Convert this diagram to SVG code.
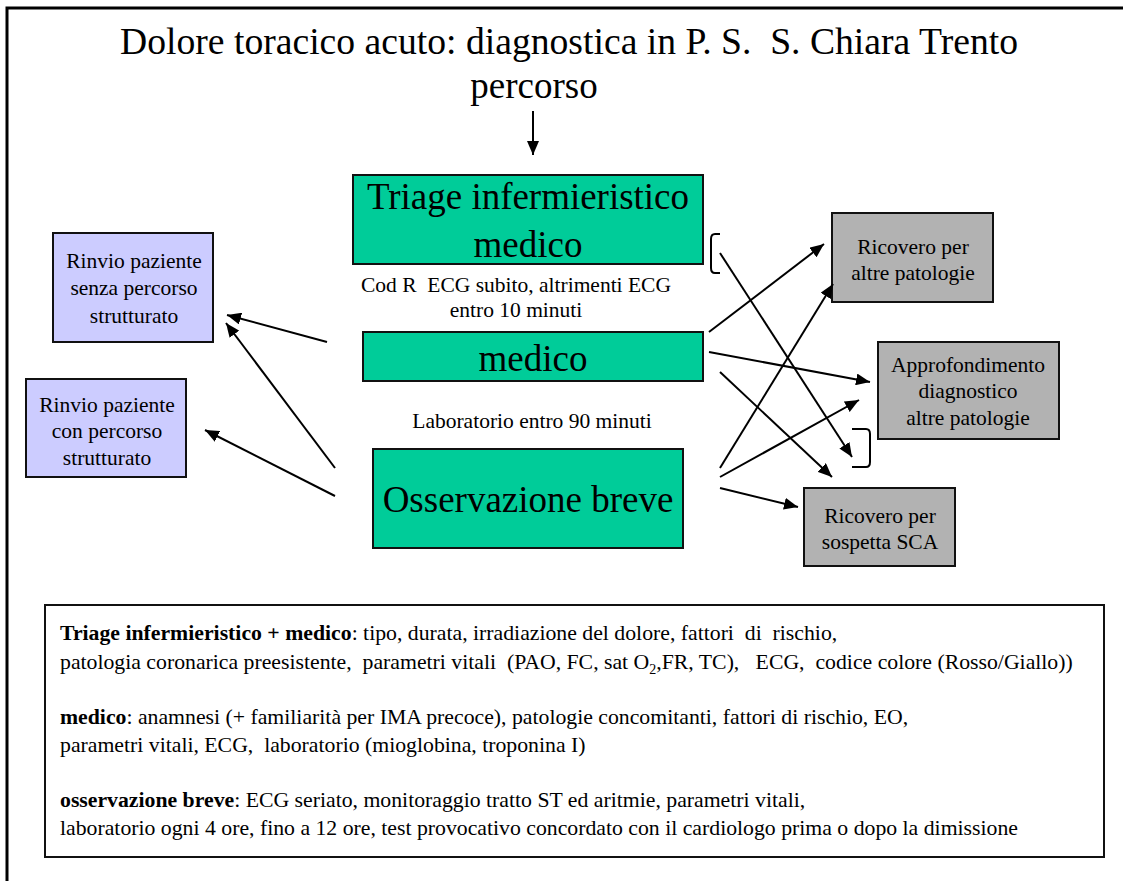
<svg xmlns="http://www.w3.org/2000/svg" width="1123" height="881" viewBox="0 0 1123 881" font-family="'Liberation Serif', 'DejaVu Serif', serif">
<style>
text{font-family:'Liberation Serif','DejaVu Serif',serif;fill:#000}
.big{font-size:37px;text-anchor:middle}
.sm{font-size:21.5px;text-anchor:middle}
.body{font-size:21.75px}
.b{font-weight:bold}
.g{fill:#00CC99;stroke:#111;stroke-width:2}
.l{fill:#CCCCFF;stroke:#111;stroke-width:2}
.y{fill:#B2B2B2;stroke:#111;stroke-width:2}
.c line{stroke:#000;stroke-width:2;marker-end:url(#ah)}
.br{fill:none;stroke:#000;stroke-width:2}
</style>
<defs>
<marker id="ah" markerUnits="userSpaceOnUse" markerWidth="15" markerHeight="12" refX="14" refY="6" orient="auto">
<path d="M0,0 L14,6 L0,12 z" fill="#000"/>
</marker>
</defs>
<rect width="1123" height="881" fill="#fff"/>
<path d="M7,881 V8 H1123" fill="none" stroke="#000" stroke-width="3"/>
<g id="title">
<text x="120" y="54" font-size="37" xml:space="preserve" textLength="898" lengthAdjust="spacingAndGlyphs">Dolore toracico acuto: diagnostica in P. S.  S. Chiara Trento</text>
<text x="534" y="98" class="big">percorso</text>
</g>
<g id="triage">
<rect x="353" y="175" width="350" height="89" class="g"/>
<text x="528" y="209" class="big" textLength="322" lengthAdjust="spacingAndGlyphs">Triage infermieristico</text>
<text x="528" y="257" class="big">medico</text>
</g>
<g id="label-ecg">
<text x="516" y="292" class="sm" xml:space="preserve">Cod R  ECG subito, altrimenti ECG</text>
<text x="516" y="317" class="sm">entro 10 minuti</text>
</g>
<g id="medico">
<rect x="363" y="332" width="340" height="49" class="g"/>
<text x="533" y="371" class="big">medico</text>
</g>
<g id="label-lab">
<text x="532" y="428" class="sm">Laboratorio entro 90 minuti</text>
</g>
<g id="osservazione">
<rect x="373" y="449" width="310" height="99" class="g"/>
<text x="528" y="512" class="big" font-size="38">Osservazione breve</text>
</g>
<g id="rinvio-senza">
<rect x="53" y="233" width="160" height="109" class="l"/>
<text x="134" y="268" class="sm">Rinvio paziente</text>
<text x="134" y="295" class="sm">senza percorso</text>
<text x="134" y="323" class="sm">strutturato</text>
</g>
<g id="rinvio-con">
<rect x="26" y="379" width="160" height="98" class="l"/>
<text x="107" y="412" class="sm">Rinvio paziente</text>
<text x="107" y="438" class="sm">con percorso</text>
<text x="107" y="465" class="sm">strutturato</text>
</g>
<g id="ricovero-altre">
<rect x="832" y="213" width="161" height="89" class="y"/>
<text x="913" y="254" class="sm">Ricovero per</text>
<text x="913" y="280" class="sm">altre patologie</text>
</g>
<g id="approfondimento">
<rect x="878" y="342" width="181" height="97" class="y"/>
<text x="968" y="372" class="sm">Approfondimento</text>
<text x="968" y="398" class="sm">diagnostico</text>
<text x="968" y="425" class="sm">altre patologie</text>
</g>
<g id="ricovero-sca">
<rect x="804" y="488" width="151" height="78" class="y"/>
<text x="880" y="523" class="sm">Ricovero per</text>
<text x="880" y="549" class="sm">sospetta SCA</text>
</g>
<g id="connectors" class="c">
<line x1="533" y1="111" x2="533" y2="155"/>
<line x1="327" y1="342" x2="227" y2="315"/>
<line x1="335" y1="468" x2="226" y2="323"/>
<line x1="335" y1="496" x2="205" y2="430"/>
<line x1="709" y1="332" x2="824" y2="244"/>
<line x1="720" y1="253" x2="852" y2="457"/>
<line x1="709" y1="352" x2="870" y2="382"/>
<line x1="720" y1="372" x2="832" y2="477"/>
<line x1="720" y1="468" x2="833" y2="284"/>
<line x1="720" y1="477" x2="859" y2="400"/>
<line x1="720" y1="488" x2="798" y2="507"/>
<path class="br" d="M720,234 H715 Q711,234 711,239 V268 Q711,273 715,273 H720"/>
<path class="br" d="M852,429 H866 Q870,429 870,434 V462 Q870,467 866,467 H852"/>
</g>
<g id="notes">
<rect x="45" y="605" width="1059" height="252" fill="#fff" stroke="#111" stroke-width="2"/>
<text x="60" y="640" class="body" xml:space="preserve"><tspan class="b">Triage infermieristico + medico</tspan>: tipo, durata, irradiazione del dolore, fattori  di  rischio,</text>
<text x="60" y="669" class="body" xml:space="preserve">patologia coronarica preesistente,  parametri vitali  (PAO, FC, sat O<tspan font-size="14" dy="5">2</tspan><tspan dy="-5">,FR, TC),   ECG,  codice colore (Rosso/Giallo))</tspan></text>
<text x="60" y="724" class="body" xml:space="preserve"><tspan class="b">medico</tspan>: anamnesi (+ familiarità per IMA precoce), patologie concomitanti, fattori di rischio, EO,</text>
<text x="60" y="752" class="body" xml:space="preserve">parametri vitali, ECG,  laboratorio (mioglobina, troponina I)</text>
<text x="60" y="807" class="body" xml:space="preserve"><tspan class="b">osservazione breve</tspan>: ECG seriato, monitoraggio tratto ST ed aritmie, parametri vitali,</text>
<text x="60" y="835" class="body" xml:space="preserve">laboratorio ogni 4 ore, fino a 12 ore, test provocativo concordato con il cardiologo prima o dopo la dimissione</text>
</g>
</svg>
